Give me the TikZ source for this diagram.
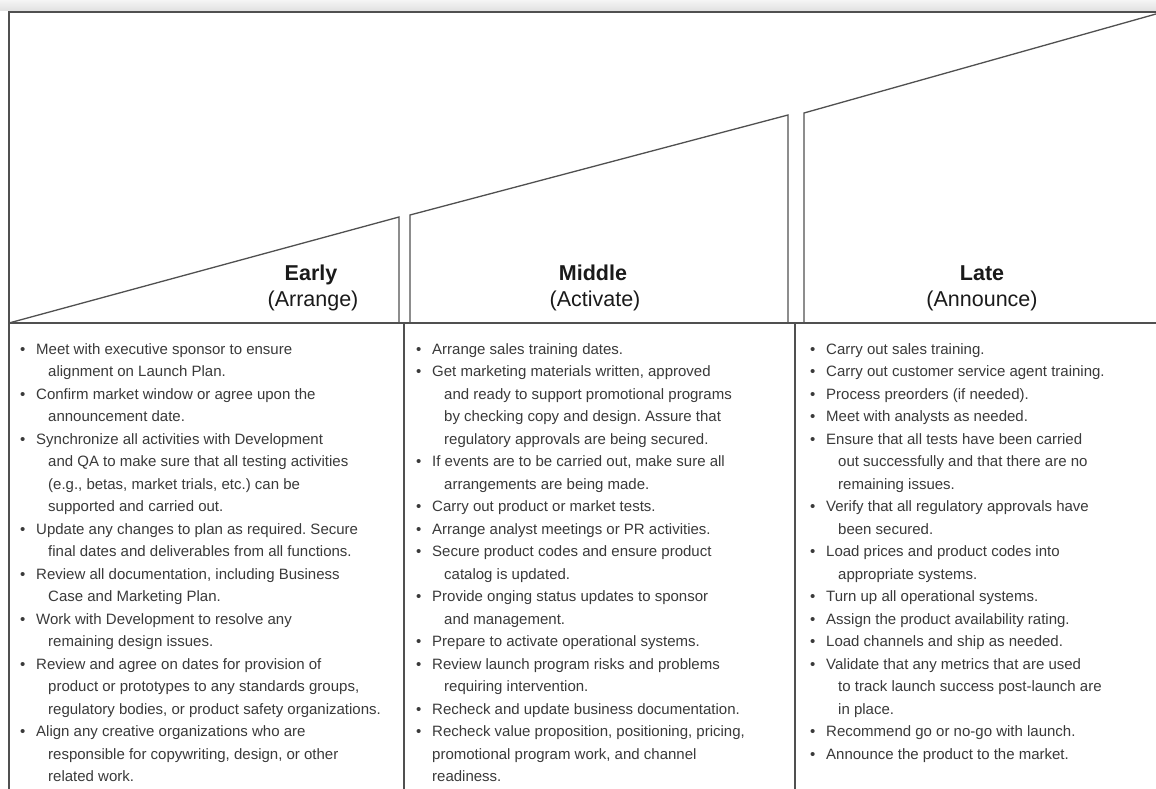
\documentclass[tikz,border=0pt]{standalone}
\usepackage{fontspec}
\setmainfont{Liberation Sans}
\definecolor{linegray}{HTML}{505050}
\definecolor{bodytext}{HTML}{3A3A3A}
\definecolor{headtext}{HTML}{1A1A1A}
\newcommand\bl{\makebox[16pt][l]{\textbullet}}
\newcommand\ind{\hspace{28pt}}
\newcommand\nind{\hspace{16pt}}
\frenchspacing
\tikzset{
  frame/.style={draw=linegray, line width=1.4pt},
  shapeline/.style={draw=linegray, line width=1.3pt, line join=miter},
  heading/.style={anchor=base, inner sep=0pt, text=headtext, font=\fontsize{21.5}{27}\selectfont\bfseries},
  subheading/.style={anchor=base, inner sep=0pt, text=headtext, font=\fontsize{21.5}{27}\selectfont},
  body/.style={anchor=base west, inner sep=0pt, text=bodytext, font=\fontsize{15}{22.5}\selectfont}
}
\begin{document}
\begin{tikzpicture}[x=1pt,y=-1pt]
\useasboundingbox (0,0) rectangle (1156,789);
\fill[white] (0,0) rectangle (1156,789);
\shade[top color=white!96!black, bottom color=white!88!black] (0,0) rectangle (1156,11);
% outer frame
\coordinate (tl) at (9,12);
\coordinate (tr) at (1156,12);
\coordinate (bl) at (9,789);
\coordinate (ml) at (9,323);
\coordinate (mr) at (1156,323);
\draw[frame] (tr) -- (tl) -- (bl);
\draw[frame] (ml) -- (mr);
% ramp shapes
\coordinate (e1) at (9,323);
\coordinate (e2) at (399,217);
\coordinate (e3) at (399,323);
\draw[shapeline] (e1) -- (e2) -- (e3);
\coordinate (m1) at (410,323);
\coordinate (m2) at (410,215);
\coordinate (m3) at (788,115);
\coordinate (m4) at (788,323);
\draw[shapeline] (m1) -- (m2) -- (m3) -- (m4);
\coordinate (l1) at (804,323);
\coordinate (l2) at (804,113);
\coordinate (l3) at (1156,14);
\draw[shapeline] (l1) -- (l2) -- (l3);
% column dividers
\coordinate (d1t) at (404,323);
\coordinate (d1b) at (404,789);
\coordinate (d2t) at (795,323);
\coordinate (d2b) at (795,789);
\draw[frame] (d1t) -- (d1b);
\draw[frame] (d2t) -- (d2b);
% headings
\node[heading] (early) at (311,280) {Early};
\node[subheading] (arrange) at (313,306) {(Arrange)};
\node[heading] (middle) at (593,280) {Middle};
\node[subheading] (activate) at (595,306) {(Activate)};
\node[heading] (late) at (982,280) {Late};
\node[subheading] (announce) at (982,306) {(Announce)};
% column texts
\node[body] (col1) at (20,354) {\begin{tabular}[t]{@{}l@{}}
\bl Meet with executive sponsor to ensure\\
\ind alignment on Launch Plan.\\
\bl Confirm market window or agree upon the\\
\ind announcement date.\\
\bl Synchronize all activities with Development\\
\ind and QA to make sure that all testing activities\\
\ind (e.g., betas, market trials, etc.) can be\\
\ind supported and carried out.\\
\bl Update any changes to plan as required. Secure\\
\ind final dates and deliverables from all functions.\\
\bl Review all documentation, including Business\\
\ind Case and Marketing Plan.\\
\bl Work with Development to resolve any\\
\ind remaining design issues.\\
\bl Review and agree on dates for provision of\\
\ind product or prototypes to any standards groups,\\
\ind regulatory bodies, or product safety organizations.\\
\bl Align any creative organizations who are\\
\ind responsible for copywriting, design, or other\\
\ind related work.
\end{tabular}};
\node[body] (col2) at (416,354) {\begin{tabular}[t]{@{}l@{}}
\bl Arrange sales training dates.\\
\bl Get marketing materials written, approved\\
\ind and ready to support promotional programs\\
\ind by checking copy and design. Assure that\\
\ind regulatory approvals are being secured.\\
\bl If events are to be carried out, make sure all\\
\ind arrangements are being made.\\
\bl Carry out product or market tests.\\
\bl Arrange analyst meetings or PR activities.\\
\bl Secure product codes and ensure product\\
\ind catalog is updated.\\
\bl Provide onging status updates to sponsor\\
\ind and management.\\
\bl Prepare to activate operational systems.\\
\bl Review launch program risks and problems\\
\ind requiring intervention.\\
\bl Recheck and update business documentation.\\
\bl Recheck value proposition, positioning, pricing,\\
\nind promotional program work, and channel\\
\nind readiness.
\end{tabular}};
\node[body] (col3) at (810,354) {\begin{tabular}[t]{@{}l@{}}
\bl Carry out sales training.\\
\bl Carry out customer service agent training.\\
\bl Process preorders (if needed).\\
\bl Meet with analysts as needed.\\
\bl Ensure that all tests have been carried\\
\ind out successfully and that there are no\\
\ind remaining issues.\\
\bl Verify that all regulatory approvals have\\
\ind been secured.\\
\bl Load prices and product codes into\\
\ind appropriate systems.\\
\bl Turn up all operational systems.\\
\bl Assign the product availability rating.\\
\bl Load channels and ship as needed.\\
\bl Validate that any metrics that are used\\
\ind to track launch success post-launch are\\
\ind in place.\\
\bl Recommend go or no-go with launch.\\
\bl Announce the product to the market.
\end{tabular}};
\end{tikzpicture}
\end{document}
